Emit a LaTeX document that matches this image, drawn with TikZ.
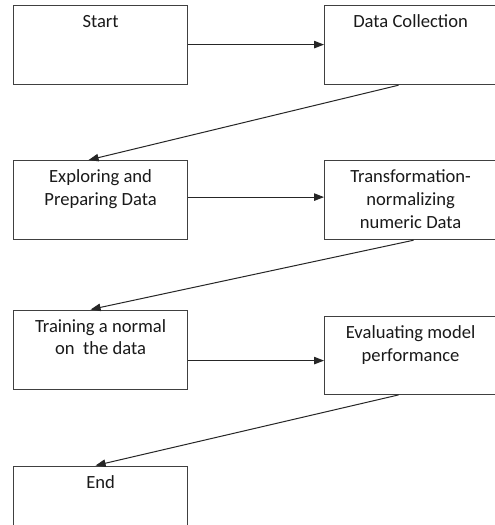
\documentclass[tikz,border=0pt]{standalone}
\usepackage{fontspec}
\setmainfont{Carlito}
\usepackage{tikz}
\usetikzlibrary{
  arrows.meta,
  positioning,
  calc,
}
\definecolor{frame}{HTML}{404040}
\definecolor{wire}{HTML}{262626}
\definecolor{ink}{HTML}{1A1A1A}
\tikzset{
  >={Triangle[length=10pt,width=7.5pt]},
  every node/.append style={text=ink},
  stagebox/.style={
    draw=frame,
    line width=1.2pt,
    rectangle,
    inner sep=0pt,
    minimum width=174pt,
    align=center,
    text height=22pt,
    text depth=57pt,
    font=\fontsize{18.6}{22.7}\selectfont,
  },
  twoline/.style={text height=44.7pt, text depth=34.3pt},
  threeline/.style={text height=67.4pt, text depth=11.6pt},
  flow/.style={draw=wire, line width=1pt, ->},
}

\begin{document}
\begin{tikzpicture}[x=1pt,y=-1pt]
  \useasboundingbox (0,0) rectangle (495,525);
  \clip (0,0) rectangle (495,525);
  \fill[white] (0,0) rectangle (495,525);

  % left column
  \node[stagebox, anchor=north west] (start) at (13,5) {Start};
  \node[stagebox, twoline, anchor=north west] (explore) at (13,160) {Exploring and\\Preparing Data};
  \node[stagebox, twoline, anchor=north west] (train) at (13,309.5) {Training a normal\\on~ the data};
  \node[stagebox, anchor=north west] (finish) at (13,465.5) {End};

  % right column
  \node[stagebox, anchor=north west, minimum width=172pt] (collect) at (324,5) {Data Collection};
  \node[stagebox, threeline, anchor=north west, minimum width=172pt] (transform) at (324,160) {Transformation-\\normalizing\\numeric Data};
  \node[stagebox, twoline, anchor=north west, minimum width=172pt, text depth=33.3pt] (evaluate) at (324,315.7) {Evaluating model\\performance};

  % arrows
  \draw[flow] ([yshift=0.5pt]start.east) -- ([yshift=0.5pt]collect.west);
  \draw[flow] ([xshift=-12pt]collect.south) -- ([xshift=-12pt]explore.north);
  \draw[flow] ([yshift=3pt]explore.east) -- ([yshift=3pt]explore.east -| transform.west);
  \draw[flow] ([xshift=3pt]transform.south) -- ([xshift=-10pt]train.north);
  \draw[flow] ([yshift=-11pt]train.east) -- ([yshift=-11pt]train.east -| evaluate.west);
  \draw[flow] ([xshift=-12pt]evaluate.south) -- ([xshift=-5pt]finish.north);
\end{tikzpicture}
\end{document}
